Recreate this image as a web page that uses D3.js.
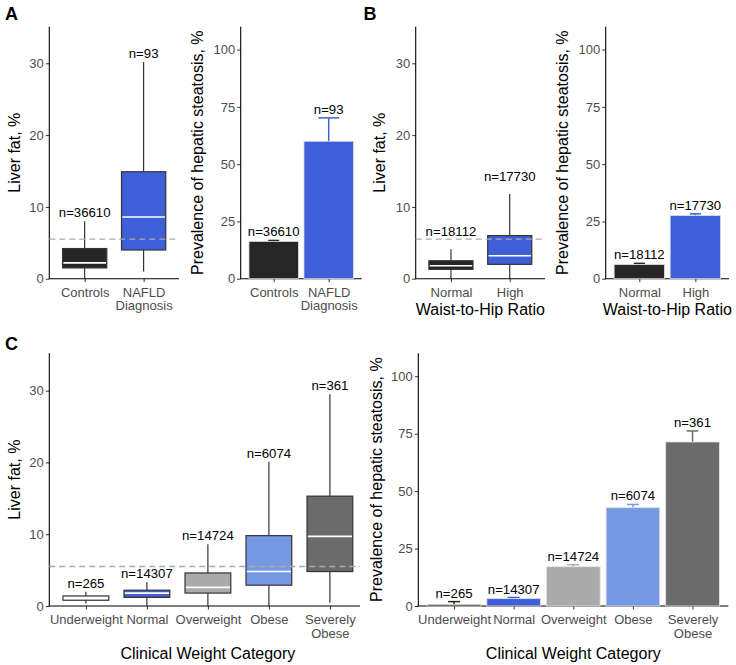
<!DOCTYPE html>
<html><head><meta charset="utf-8">
<script src="https://cdn.jsdelivr.net/npm/d3@7"></script>
<style>body{margin:0;background:#fff} svg text{font-family:"Liberation Sans",Arial,Helvetica,sans-serif}</style>
</head><body><svg id="c" width="736" height="665"></svg>
<script>
// ---------------- data ----------------
const catsA = ["Controls", "NAFLD\nDiagnosis"];
const nA = [36610, 93];
// [lower whisker, Q1, median, Q3, upper whisker]
const boxA = [[0, 1.5, 2.2, 4.2, 8.0], [1.0, 4.0, 8.6, 14.9, 30.2]];
const prevA = [16.3, 60.0];
const ciA = [[15.9, 16.7], [49.8, 70.2]];

const catsB = ["Normal", "High"];
const nB = [18112, 17730];
const boxB = [[0, 1.3, 1.8, 2.5, 4.1], [0, 2.0, 3.2, 6.0, 11.8]];
const prevB = [6.2, 27.6];
const ciB = [[5.8, 6.7], [26.9, 28.3]];

const catsC = ["Underweight", "Normal", "Overweight", "Obese", "Severely\nObese"];
const nC = [265, 14307, 14724, 6074, 361];
const boxC = [[0.35, 0.8, 1.1, 1.4, 2.0], [0, 1.2, 1.8, 2.2, 3.3], [0, 1.8, 2.6, 4.6, 8.6],
              [0, 2.9, 4.8, 9.8, 20.1], [0.45, 4.8, 9.7, 15.3, 29.5]];
const prevC = [0.7, 3.2, 17.1, 42.8, 71.4];
const ciC = [[0, 1.9], [2.7, 3.7], [16.2, 18.0], [41.4, 44.2], [66.6, 76.2]];

const liverFatCutoff = 5.5;
const boxTicks = [0, 10, 20, 30];
const barTicks = [0, 25, 50, 75, 100];

// ---------------- styles ----------------
const FONT = '"Liberation Sans", Arial, Helvetica, sans-serif';
const DARK = "#262626", BLUE = "#3f5fd9", LBLUE = "#7799e3", GREY = "#ababab", DGREY = "#6b6b6b";
const colA = [DARK, BLUE], colB = [DARK, BLUE];
const colCbox = ["#f7f7f7", BLUE, GREY, LBLUE, DGREY];
const colCbar = [DARK, BLUE, GREY, LBLUE, DGREY];

const svg = d3.select("#c");

function makeX(cats, x0, x1) {
  return d3.scalePoint().domain(cats).range([x0, x1]).padding(0.6);
}

function frame(cfg, x, y, ticks) {
  const g = svg.append("g");
  const ya = g.append("g").attr("transform", `translate(${cfg.x0},0)`)
    .call(d3.axisLeft(y).tickValues(ticks).tickSize(3.5).tickSizeOuter(0).tickPadding(2));
  ya.select(".domain").remove();
  ya.selectAll(".tick line").attr("stroke", "#333").attr("stroke-width", 1);
  ya.selectAll(".tick text").attr("fill", "#4d4d4d").style("font-size", "13px").style("font-family", FONT);

  const xa = g.append("g").attr("transform", `translate(0,${cfg.yBot})`)
    .call(d3.axisBottom(x).tickSize(3.5).tickSizeOuter(0).tickPadding(5.3));
  xa.select(".domain").remove();
  xa.selectAll(".tick line").attr("stroke", "#333").attr("stroke-width", 1);
  xa.selectAll(".tick text").attr("fill", "#4d4d4d").style("font-size", "13px").style("font-family", FONT)
    .each(function (d) {
      const t = d3.select(this);
      const lines = d.split("\n");
      t.text(null);
      lines.forEach((l, i) => t.append("tspan").attr("x", 0).attr("dy", i ? "1.05em" : "0.71em").text(l));
    });

  g.append("line").attr("x1", cfg.x0).attr("x2", cfg.x0).attr("y1", cfg.yTop).attr("y2", cfg.yBot)
    .attr("stroke", "#000").attr("stroke-width", 1.1);
  g.append("line").attr("x1", cfg.x0 - 0.5).attr("x2", cfg.axisEnd).attr("y1", cfg.yBot).attr("y2", cfg.yBot)
    .attr("stroke", "#000").attr("stroke-width", 1.1);

  // y title
  g.append("text").attr("transform", `translate(${cfg.yTitleX},${(cfg.yTop + cfg.yBot) / 2}) rotate(-90)`)
    .attr("text-anchor", "middle").style("font-size", "16px").style("font-family", FONT).attr("fill", "#000")
    .text(cfg.yTitle);
  if (cfg.xTitle) {
    g.append("text").attr("x", (cfg.x0 + cfg.x1) / 2).attr("y", cfg.xTitleY).attr("text-anchor", "middle")
      .style("font-size", "16px").style("font-family", FONT).attr("fill", "#000").text(cfg.xTitle);
  }
  return g;
}

function boxPanel(cfg, cats, stats, ns, cols) {
  const x = makeX(cats, cfg.x0, cfg.x1);
  const y = d3.scaleLinear().domain([0, cfg.ymax]).range([cfg.yBot, cfg.yTop]);
  const u = x.step();
  const g = frame(cfg, x, y, boxTicks);
  const bw = 0.75 * u;
  cats.forEach((c, i) => {
    const [lo, q1, md, q3, hi] = stats[i];
    const cx = x(c);
    g.append("line").attr("x1", cx).attr("x2", cx).attr("y1", y(hi)).attr("y2", y(q3))
      .attr("stroke", "#222").attr("stroke-width", 1.1);
    g.append("line").attr("x1", cx).attr("x2", cx).attr("y1", y(q1)).attr("y2", y(lo))
      .attr("stroke", "#222").attr("stroke-width", 1.1);
    g.append("rect").attr("x", cx - bw / 2).attr("width", bw).attr("y", y(q3)).attr("height", y(q1) - y(q3))
      .attr("fill", cols[i]).attr("stroke", "#333").attr("stroke-width", 1.2);
    g.append("line").attr("x1", cx - bw / 2 + 0.8).attr("x2", cx + bw / 2 - 0.8).attr("y1", y(md)).attr("y2", y(md))
      .attr("stroke", "#fff").attr("stroke-width", 1.6);
    g.append("text").attr("x", cx).attr("y", y(hi) - cfg.labOff).attr("text-anchor", "middle")
      .style("font-size", "13.2px").style("font-family", FONT).attr("fill", "#000").text("n=" + ns[i]);
  });
  g.append("line").attr("x1", cfg.x0).attr("x2", cfg.axisEnd).attr("y1", y(liverFatCutoff)).attr("y2", y(liverFatCutoff))
    .attr("stroke", "#aaaaaa").attr("stroke-width", 1.3).attr("stroke-dasharray", "6,4");
}

function barPanel(cfg, cats, vals, cis, ns, cols) {
  const x = makeX(cats, cfg.x0, cfg.x1);
  const y = d3.scaleLinear().domain([0, cfg.ymax]).range([cfg.yBot, cfg.yTop]);
  const u = x.step();
  const g = frame(cfg, x, y, barTicks);
  const bw = 0.9 * u;
  cats.forEach((c, i) => {
    const cx = x(c);
    const [l, h] = cis[i];
    const cw = (cfg.capW ? cfg.capW[i] : 0.2) * u;
    g.append("line").attr("x1", cx).attr("x2", cx).attr("y1", y(l)).attr("y2", y(h))
      .attr("stroke", cols[i]).attr("stroke-width", 1.5);
    g.append("line").attr("x1", cx - cw / 2).attr("x2", cx + cw / 2).attr("y1", y(h)).attr("y2", y(h))
      .attr("stroke", cols[i]).attr("stroke-width", 1.5);
    g.append("rect").attr("x", cx - bw / 2).attr("width", bw).attr("y", y(vals[i])).attr("height", y(0) - y(vals[i]))
      .attr("fill", cols[i]).attr("stroke", "#e2e2e2").attr("stroke-width", 0.8);
    g.append("text").attr("x", cx).attr("y", y(h) - 4).attr("text-anchor", "middle")
      .style("font-size", "13.2px").style("font-family", FONT).attr("fill", "#000").text("n=" + ns[i]);
  });
}

const top1 = 26.7, bot1 = 278.7, top2 = 353.3, bot2 = 606;
const liverTitle = "Liver fat, %", prevTitle = "Prevalence of hepatic steatosis, %";

boxPanel({x0: 49.3, x1: 179, axisEnd: 179, yTop: top1, yBot: bot1, ymax: 35.1, labOff: 4,
  yTitle: liverTitle, yTitleX: 19.5}, catsA, boxA, nA, colA);
barPanel({x0: 240.7, x1: 361.7, axisEnd: 361.7, yTop: top1, yBot: bot1, ymax: 110, capW: [0.2, 0.375],
  yTitle: prevTitle, yTitleX: 203}, catsA, prevA, ciA, nA, colA);
boxPanel({x0: 415.7, x1: 545, axisEnd: 545, yTop: top1, yBot: bot1, ymax: 35.1, labOff: 13,
  yTitle: liverTitle, yTitleX: 385, xTitle: "Waist-to-Hip Ratio", xTitleY: 315}, catsB, boxB, nB, colB);
barPanel({x0: 605.7, x1: 729, axisEnd: 729, yTop: top1, yBot: bot1, ymax: 110,
  yTitle: prevTitle, yTitleX: 568, xTitle: "Waist-to-Hip Ratio", xTitleY: 315}, catsB, prevB, ciB, nB, colB);
boxPanel({x0: 49.3, x1: 366.5, axisEnd: 360, yTop: top2, yBot: bot2, ymax: 35.2, labOff: 4,
  yTitle: liverTitle, yTitleX: 20, xTitle: "Clinical Weight Category", xTitleY: 659}, catsC, boxC, nC, colCbox);
barPanel({x0: 418.3, x1: 728.3, axisEnd: 728.3, yTop: top2, yBot: bot2, ymax: 110,
  yTitle: prevTitle, yTitleX: 381.5, xTitle: "Clinical Weight Category", xTitleY: 659}, catsC, prevC, ciC, nC, colCbar);

// panel letters
[["A", 5, 20], ["B", 363.5, 20], ["C", 5, 350]].forEach(([t, px, py]) => {
  svg.append("text").attr("x", px).attr("y", py).style("font-size", "18px").style("font-weight", "bold")
    .style("font-family", FONT).attr("fill", "#000").text(t);
});
</script></body></html>
